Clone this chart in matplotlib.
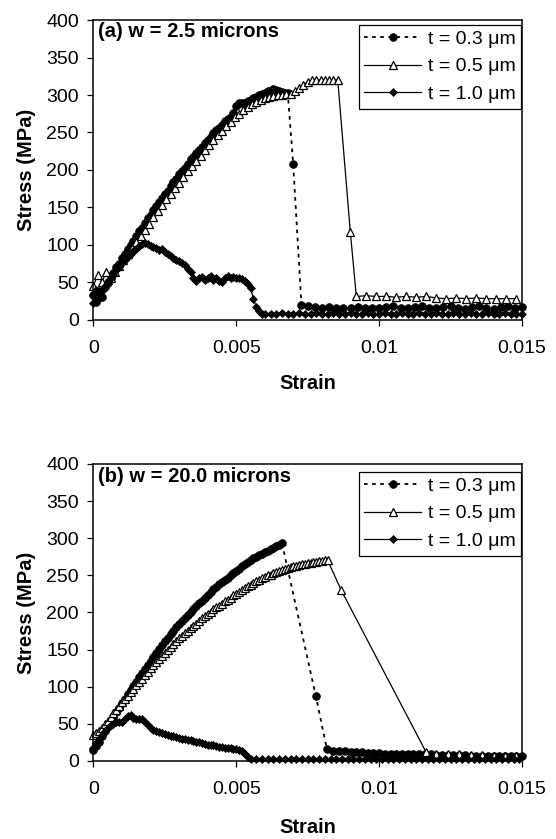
import numpy as np
import matplotlib
matplotlib.use("Agg")
import matplotlib.pyplot as plt

plt.rcParams["font.family"] = ["Liberation Sans", "DejaVu Sans"]

# ── Data ──────────────────────────────────────────────────────────────────────
# Strain is typed in millistrain (units of 1e-3), stress in MPa.

# (a) w = 2.5 microns
A_T03_STRAIN = [
    0.0, 0.1, 0.2, 0.3, 0.4, 0.5, 0.6, 0.7, 0.8, 0.9,
    1.0, 1.1, 1.2, 1.3, 1.4, 1.5, 1.6, 1.7, 1.8, 1.9,
    2.0, 2.1, 2.2, 2.3, 2.4, 2.5, 2.6, 2.7, 2.8, 2.9,
    3.0, 3.1, 3.2, 3.3, 3.4, 3.5, 3.6, 3.7, 3.8, 3.9,
    4.0, 4.1, 4.2, 4.3, 4.4, 4.5, 4.6, 4.7, 4.8, 4.9,
    5.0, 5.1, 5.2, 5.3, 5.4, 5.5, 5.6, 5.7, 5.8, 5.9,
    6.0, 6.1, 6.2, 6.3, 6.4, 6.5, 6.6, 6.7, 6.8,
    6.99, 7.28,
    7.5, 7.75, 8.0, 8.25, 8.5, 8.75, 9.0, 9.25, 9.5, 9.75,
    10.0, 10.25, 10.5, 10.75, 11.0, 11.25, 11.5, 11.75, 12.0, 12.25,
    12.5, 12.75, 13.0, 13.25, 13.5, 13.75, 14.0, 14.25, 14.5, 14.75,
    15.0,
]
A_T03_STRESS = [
    33, 24, 38, 30, 44, 50, 56, 62, 70, 74,
    82, 88, 94, 100, 105, 112, 118, 123, 129, 136,
    140, 147, 152, 157, 163, 168, 172, 178, 184, 188,
    194, 199, 203, 208, 214, 217, 222, 227, 231, 236,
    240, 244, 249, 253, 256, 260, 265, 268, 271, 276,
    285, 290, 289, 290, 292, 294, 296, 298, 300, 302,
    303, 305, 306, 308, 307, 305, 304, 303, 303,
    208, 20,
    18, 17, 16, 17, 16, 15, 16, 17, 16, 15,
    16, 17, 18, 16, 15, 17, 18, 16, 15, 17,
    18, 16, 14, 17, 18, 16, 14, 17, 18, 16,
    17,
]

A_T05_STRAIN = [
    0.0, 0.15, 0.3, 0.45, 0.6, 0.75, 0.9, 1.05, 1.2, 1.35,
    1.5, 1.65, 1.8, 1.95, 2.1, 2.25, 2.4, 2.55, 2.7, 2.85,
    3.0, 3.15, 3.3, 3.45, 3.6, 3.75, 3.9, 4.05, 4.2, 4.35,
    4.5, 4.65, 4.8, 4.95, 5.1, 5.25, 5.4, 5.55, 5.7, 5.85,
    6.0, 6.15, 6.3, 6.45, 6.6, 6.75, 6.9, 7.05, 7.2, 7.35,
    7.5, 7.65, 7.8, 7.95, 8.1, 8.25, 8.4, 8.55,
    8.99, 9.2,
    9.55, 9.9, 10.25, 10.6, 10.95, 11.3, 11.65, 12.0, 12.35, 12.7,
    13.05, 13.4, 13.75, 14.1, 14.45, 14.8,
]
A_T05_STRESS = [
    45, 60, 50, 64, 56, 63, 72, 80, 88, 96,
    104, 112, 120, 128, 137, 145, 153, 161, 168, 176,
    183, 191, 198, 205, 212, 219, 226, 233, 240, 246,
    252, 258, 264, 270, 275, 280, 284, 288, 291, 294,
    296, 298, 299, 300, 300, 301, 302, 305, 309, 313,
    318, 320, 320, 320, 320, 320, 320, 320,
    117, 31,
    32, 31, 31, 30, 31, 30, 31, 29, 28, 29,
    28, 29, 28, 28, 28, 28,
]

A_T10_STRAIN = [
    0.0, 0.1, 0.2, 0.3, 0.4, 0.5, 0.6, 0.7, 0.8, 0.9,
    1.0, 1.1, 1.2, 1.3, 1.4, 1.5, 1.6, 1.7, 1.8, 1.9,
    2.0, 2.1, 2.2, 2.3, 2.4, 2.5, 2.6, 2.7, 2.8, 2.9,
    3.0, 3.1, 3.2, 3.3, 3.4, 3.5, 3.6, 3.7, 3.8, 3.9,
    4.0, 4.1, 4.2, 4.3, 4.4, 4.5, 4.6, 4.7, 4.8, 4.9,
    5.0, 5.1, 5.2, 5.3, 5.4, 5.5, 5.6, 5.7, 5.8, 5.9,
    6.0,
    6.2, 6.4, 6.6, 6.8, 7.0, 7.2, 7.4, 7.6, 7.8, 8.0,
    8.2, 8.4, 8.6, 8.8, 9.0, 9.2, 9.4, 9.6, 9.8, 10.0,
    10.2, 10.4, 10.6, 10.8, 11.0, 11.2, 11.4, 11.6, 11.8, 12.0,
    12.2, 12.4, 12.6, 12.8, 13.0, 13.2, 13.4, 13.6, 13.8, 14.0,
    14.2, 14.4, 14.6, 14.8, 15.0,
]
A_T10_STRESS = [
    22, 40, 28, 38, 45, 48, 55, 60, 66, 70,
    75, 80, 84, 88, 92, 95, 98, 101, 103, 101,
    99, 97, 96, 93, 94, 91, 88, 85, 83, 80,
    78, 76, 73, 68, 63, 56, 52, 55, 57, 53,
    55, 58, 53, 56, 52, 50, 55, 58, 56, 57,
    55, 56, 54, 52, 48, 42, 28, 17, 11, 8,
    8,
    8, 8, 9, 8, 8, 9, 8, 8, 9, 8,
    8, 9, 8, 8, 9, 8, 8, 9, 8, 8,
    9, 8, 8, 9, 8, 8, 9, 8, 8, 9,
    8, 8, 9, 8, 8, 9, 8, 8, 9, 8,
    8, 9, 8, 8, 8,
]

# (b) w = 20.0 microns
B_T03_STRAIN = [
    0.0, 0.1, 0.2, 0.3, 0.4, 0.5, 0.6, 0.7, 0.8, 0.9,
    1.0, 1.1, 1.2, 1.3, 1.4, 1.5, 1.6, 1.7, 1.8, 1.9,
    2.0, 2.1, 2.2, 2.3, 2.4, 2.5, 2.6, 2.7, 2.8, 2.9,
    3.0, 3.1, 3.2, 3.3, 3.4, 3.5, 3.6, 3.7, 3.8, 3.9,
    4.0, 4.1, 4.2, 4.3, 4.4, 4.5, 4.6, 4.7, 4.8, 4.9,
    5.0, 5.1, 5.2, 5.3, 5.4, 5.5, 5.6, 5.7, 5.8, 5.9,
    6.0, 6.1, 6.2, 6.3, 6.4, 6.5, 6.6,
    7.78, 8.17,
    8.4, 8.6, 8.8, 9.0, 9.2, 9.4, 9.6, 9.8, 10.0, 10.2,
    10.4, 10.6, 10.8, 11.0, 11.2, 11.4, 11.6, 11.8, 12.0, 12.2,
    12.4, 12.6, 12.8, 13.0, 13.2, 13.4, 13.6, 13.8, 14.0, 14.2,
    14.4, 14.6, 14.8, 15.0,
]
B_T03_STRESS = [
    15, 20, 26, 33, 40, 47, 53, 59, 66, 72,
    78, 84, 90, 96, 101, 107, 113, 118, 124, 129,
    135, 140, 146, 151, 156, 161, 166, 171, 175, 180,
    185, 189, 193, 197, 201, 205, 209, 213, 216, 220,
    224, 227, 231, 234, 238, 241, 244, 247, 250, 253,
    256, 259, 262, 265, 268, 271, 273, 275, 277, 279,
    281, 283, 285, 287, 289, 291, 293,
    88, 16,
    14, 13, 13, 12, 12, 12, 11, 11, 11, 10,
    10, 10, 10, 9, 9, 9, 9, 9, 8, 8,
    8, 8, 8, 8, 7, 7, 7, 7, 7, 7,
    7, 7, 7, 7,
]

B_T05_STRAIN = [
    0.0, 0.1, 0.2, 0.3, 0.4, 0.5, 0.6, 0.7, 0.8, 0.9,
    1.0, 1.1, 1.2, 1.3, 1.4, 1.5, 1.6, 1.7, 1.8, 1.9,
    2.0, 2.1, 2.2, 2.3, 2.4, 2.5, 2.6, 2.7, 2.8, 2.9,
    3.0, 3.1, 3.2, 3.3, 3.4, 3.5, 3.6, 3.7, 3.8, 3.9,
    4.0, 4.1, 4.2, 4.3, 4.4, 4.5, 4.6, 4.7, 4.8, 4.9,
    5.0, 5.1, 5.2, 5.3, 5.4, 5.5, 5.6, 5.7, 5.8, 5.9,
    6.0, 6.1, 6.2, 6.3, 6.4, 6.5, 6.6, 6.7, 6.8, 6.9,
    7.0, 7.1, 7.2, 7.3, 7.4, 7.5, 7.6, 7.7, 7.8, 7.9,
    8.0, 8.1, 8.2,
    8.67, 11.64,
    12.0, 12.4, 12.8, 13.2, 13.6, 14.0, 14.4, 14.8,
]
B_T05_STRESS = [
    35, 37, 41, 45, 50, 54, 59, 64, 69, 74,
    79, 83, 88, 93, 97, 102, 107, 111, 116, 120,
    125, 129, 133, 137, 142, 146, 150, 154, 157, 161,
    165, 168, 172, 175, 179, 182, 185, 188, 192, 195,
    198, 201, 204, 207, 209, 212, 215, 217, 220, 223,
    225, 228, 230, 233, 235, 237, 240, 242, 244, 246,
    248, 250, 251, 253, 254, 256, 257, 258, 260, 261,
    262, 263, 264, 265, 265, 266, 267, 268, 268, 269,
    269, 270, 270,
    230, 12,
    10, 9, 9, 8, 8, 7, 7, 7,
]

B_T10_STRAIN = [
    0.0, 0.1, 0.2, 0.3, 0.4, 0.5, 0.6, 0.7, 0.8, 0.9,
    1.0, 1.1, 1.2, 1.3, 1.4, 1.5, 1.6, 1.7, 1.8, 1.9,
    2.0, 2.1, 2.2, 2.3, 2.4, 2.5, 2.6, 2.7, 2.8, 2.9,
    3.0, 3.1, 3.2, 3.3, 3.4, 3.5, 3.6, 3.7, 3.8, 3.9,
    4.0, 4.1, 4.2, 4.3, 4.4, 4.5, 4.6, 4.7, 4.8, 4.9,
    5.0, 5.1, 5.2, 5.3, 5.4, 5.5,
    5.7, 5.9, 6.1, 6.3, 6.5, 6.7, 6.9, 7.1, 7.3, 7.5,
    7.7, 7.9, 8.1, 8.3, 8.5, 8.7, 8.9, 9.1, 9.3, 9.5,
    9.7, 9.9, 10.1, 10.3, 10.5, 10.7, 10.9, 11.1, 11.3, 11.5,
    11.7, 11.9, 12.1, 12.3, 12.5, 12.7, 12.9, 13.1, 13.3, 13.5,
    13.7, 13.9, 14.1, 14.3, 14.5, 14.7, 14.9,
]
B_T10_STRESS = [
    18, 24, 30, 35, 40, 44, 48, 50, 52, 53,
    53, 56, 60, 62, 58, 57, 57, 56, 53, 49,
    44, 42, 40, 39, 37, 36, 35, 34, 33, 32,
    31, 30, 29, 28, 28, 27, 26, 25, 24, 23,
    22, 22, 21, 20, 19, 19, 18, 17, 17, 16,
    16, 15, 14, 10, 5, 2,
    2, 2, 2, 2, 2, 2, 2, 2, 2, 2,
    2, 2, 2, 2, 2, 2, 2, 2, 2, 2,
    2, 2, 2, 2, 2, 2, 2, 2, 2, 2,
    2, 2, 2, 2, 2, 2, 2, 2, 2, 2,
    2, 2, 2, 2, 2, 2, 2,
]

SERIES_LABELS = ["t = 0.3 \u03bcm", "t = 0.5 \u03bcm", "t = 1.0 \u03bcm"]
PANEL_TITLES = ["(a) w = 2.5 microns", "(b) w = 20.0 microns"]
STRAIN_TICKS = [0, 0.005, 0.01, 0.015]
STRAIN_TICK_LABELS = ["0", "0.005", "0.01", "0.015"]
STRESS_TICKS = [0, 50, 100, 150, 200, 250, 300, 350, 400]

# ── Styles ────────────────────────────────────────────────────────────────────
STYLES = [
    dict(color="black", linestyle=(0, (2, 2.5)), linewidth=1.3,
         marker="o", markersize=5.5, markerfacecolor="black",
         markeredgecolor="black", markeredgewidth=0.6),
    dict(color="black", linestyle="-", linewidth=0.9,
         marker="^", markersize=6, markerfacecolor="white",
         markeredgecolor="black", markeredgewidth=0.9),
    dict(color="black", linestyle="-", linewidth=0.9,
         marker="D", markersize=4.0, markerfacecolor="black",
         markeredgecolor="black", markeredgewidth=0.5),
]

FONT_TICK = 14
FONT_LABEL = 14.5


def draw_panel(ax, series, title, title_y, legend_top, xlabel_y):
    for (strain, stress), label, style in zip(series, SERIES_LABELS, STYLES):
        ax.plot(np.array(strain) / 1000.0, stress, label=label,
                clip_on=False, **style)

    ax.set_xlim(0, 0.015)
    ax.set_ylim(0, 400)
    ax.set_xticks(STRAIN_TICKS)
    ax.set_xticklabels(STRAIN_TICK_LABELS)
    ax.set_yticks(STRESS_TICKS)

    ax.tick_params(axis="both", direction="out", length=4.5, width=0.9,
                   labelsize=FONT_TICK)
    ax.tick_params(axis="x", pad=10)
    ax.tick_params(axis="y", pad=6)
    for spine in ax.spines.values():
        spine.set_linewidth(1.1)

    # x label placed by its baseline so it stays inside the canvas
    ax.set_xlabel("Strain", fontsize=FONT_LABEL, fontweight="bold",
                  va="baseline")
    ax.xaxis.set_label_coords(0.5, xlabel_y)
    ax.set_ylabel("Stress (MPa)", fontsize=FONT_LABEL, fontweight="bold")
    ax.yaxis.set_label_coords(-0.135, 0.5)

    ax.text(0.01, title_y, title, transform=ax.transAxes, ha="left",
            va="center", fontsize=FONT_LABEL, fontweight="bold")

    leg = ax.legend(loc="upper right", bbox_to_anchor=(0.998, legend_top),
                    borderaxespad=0, frameon=True, fancybox=False,
                    edgecolor="black", framealpha=1, fontsize=FONT_TICK,
                    borderpad=0.3, labelspacing=0.5, handlelength=2.9,
                    handletextpad=0.35)
    leg.get_frame().set_linewidth(0.9)


fig = plt.figure(figsize=(5.56, 8.39), dpi=100)
ax_a = fig.add_axes([0.168, 0.619, 0.771, 0.357])
ax_b = fig.add_axes([0.168, 0.093, 0.771, 0.354])

draw_panel(
    ax_a,
    [(A_T03_STRAIN, A_T03_STRESS), (A_T05_STRAIN, A_T05_STRESS),
     (A_T10_STRAIN, A_T10_STRESS)],
    PANEL_TITLES[0], 0.962, 0.985, -0.233,
)
draw_panel(
    ax_b,
    [(B_T03_STRAIN, B_T03_STRESS), (B_T05_STRAIN, B_T05_STRESS),
     (B_T10_STRAIN, B_T10_STRESS)],
    PANEL_TITLES[1], 0.957, 0.974, -0.243,
)

fig.savefig("out.png", dpi=100, facecolor="white")
